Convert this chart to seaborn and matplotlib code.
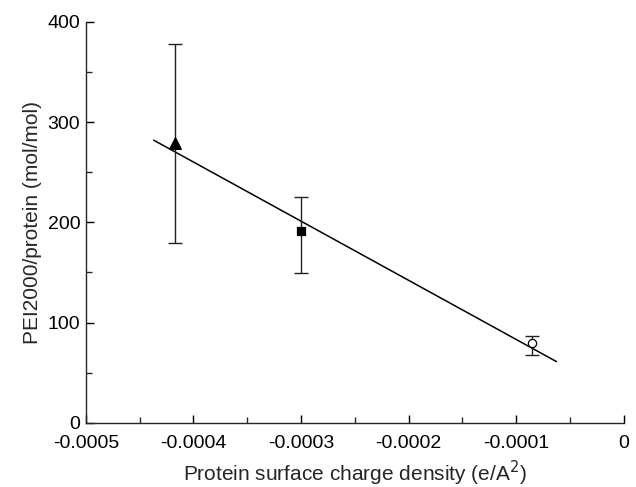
import matplotlib
matplotlib.use("Agg")
import matplotlib.pyplot as plt
import seaborn as sns
import pandas as pd
from matplotlib.ticker import MultipleLocator

# data
charge = [-0.000417, -0.000300, -0.000085]
ratio = [279, 191, 80]
err_low = [100, 42, 12]
err_high = [99, 34, 7]
markers = ["^", "s", "o"]
filled = [True, True, False]

fit_x = [-0.000437, -0.0000627]
fit_y = [282, 61]

xticks = [-0.0005, -0.0004, -0.0003, -0.0002, -0.0001, 0]
xtick_labels = ["-0.0005", "-0.0004", "-0.0003", "-0.0002", "-0.0001", "0"]
yticks = [0, 100, 200, 300, 400]

sns.set_style("ticks")
plt.rcParams['font.family'] = ['Liberation Sans', 'DejaVu Sans']

fig = plt.figure(figsize=(6.36, 4.87), dpi=100)
ax = fig.add_axes([0.135, 0.132, 0.846, 0.823])

fit = pd.DataFrame({"x": fit_x, "y": fit_y})
sns.lineplot(data=fit, x="x", y="y", ax=ax, color="black", linewidth=1.1)

for i in range(len(charge)):
    ax.errorbar(charge[i], ratio[i], yerr=[[err_low[i]], [err_high[i]]],
                fmt="none", ecolor="#222222", elinewidth=1.0, capsize=5, capthick=1.0)
    pt = pd.DataFrame({"x": [charge[i]], "y": [ratio[i]]})
    size = 70 if markers[i] == "^" else 35
    sns.scatterplot(data=pt, x="x", y="y", ax=ax, marker=markers[i], s=size,
                    color="black" if filled[i] else "white",
                    edgecolor="black", linewidth=0.9, zorder=5)

ax.set_xlim(-0.0005, 0)
ax.set_ylim(0, 400)
ax.set_xticks(xticks)
ax.set_xticklabels(xtick_labels)
ax.set_yticks(yticks)
ax.xaxis.set_minor_locator(MultipleLocator(0.00005))
ax.yaxis.set_minor_locator(MultipleLocator(50))
ax.tick_params(which="major", direction="in", length=6, width=1, labelsize=14,
               colors="black")
ax.tick_params(which="minor", direction="in", length=4, width=1)
ax.tick_params(axis="x", which="major", pad=9)
ax.tick_params(axis="y", which="major", pad=4)
for s in ["left", "bottom"]:
    ax.spines[s].set_linewidth(1)
sns.despine(ax=ax)

ax.set_xlabel("Protein surface charge density (e/A$^2$)", fontsize=15, labelpad=5)
ax.set_ylabel("PEI2000/protein (mol/mol)", fontsize=15, labelpad=4)

fig.savefig("out.png", dpi=100)
